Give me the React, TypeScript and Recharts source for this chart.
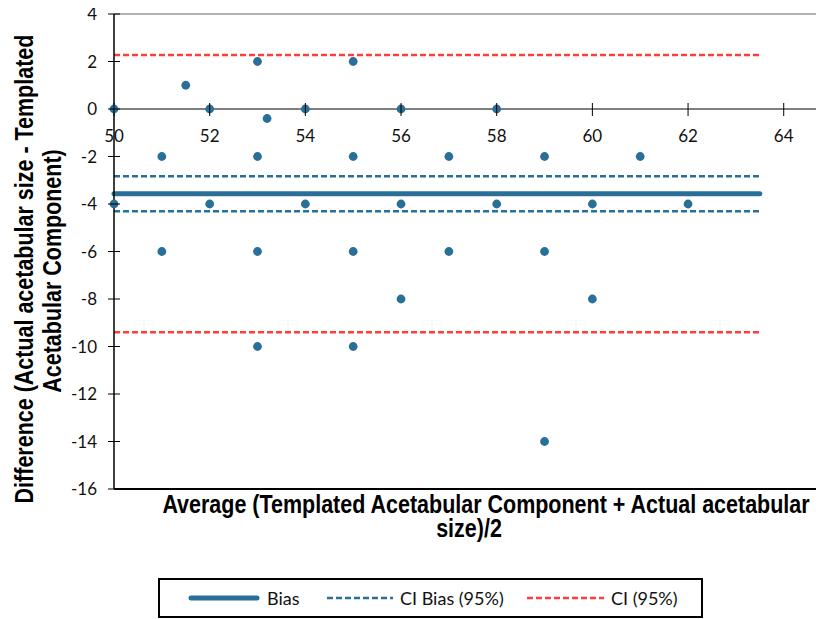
import React from "react";
import { ScatterChart, Scatter, XAxis, YAxis, ReferenceLine } from "recharts";

// Bland-Altman points: average of the two sizes vs. their difference
const averages = [
  50, 50, 51.5, 51, 51, 52, 52, 53, 53.2, 53, 53, 53, 54, 54, 55, 55, 55, 55,
  56, 56, 56, 57, 57, 58, 58, 59, 59, 59, 60, 60, 61, 62,
];
const differences = [
  0, -4, 1, -2, -6, 0, -4, 2, -0.4, -2, -6, -10, 0, -4, 2, -2, -6, -10, 0, -4,
  -8, -2, -6, 0, -4, -2, -6, -14, -4, -8, -2, -4,
];

const xTicks = [50, 52, 54, 56, 58, 60, 62, 64];
const yTicks = [4, 2, 0, -2, -4, -6, -8, -10, -12, -14, -16];

// summary lines
const bias = -3.57;
const ciBias = [-2.83, -4.31];
const ci = [2.27, -9.4];
const lineRange = [50, 63.5];

const BLUE = "#2a6f97";
const RED = "#ff3d3d";

const legendItems = [
  { label: "Bias", color: BLUE, dash: "", width: 5 },
  { label: "CI Bias (95%)", color: BLUE, dash: "6 3", width: 2.5 },
  { label: "CI (95%)", color: RED, dash: "6 3", width: 2.5 },
];
// legend layout: left offset and swatch length per item
const legendLeft = [28, 167, 367];
const legendSwatch = [72, 66, 77];

const PLOT_H = 475;
const ZERO_FROM_BOTTOM = PLOT_H * (16 / 20); // y = 0 sits 16 of 20 units above the bottom

const data = averages.map((x, i) => ({ x, y: differences[i] }));

const tickFont = { fontFamily: "Lato, sans-serif", fontSize: 17, fill: "#111" };
// narrow bold look: Liberation Sans bold squeezed horizontally
const titleFont = {
  fontFamily: "'Liberation Sans', Arial, sans-serif",
  fontWeight: 700,
  fontSize: 25,
  fill: "#000",
};
const SQUEEZE = 0.86;

const XTick = (props: any) => {
  const { x, y, payload } = props;
  const zy = y - ZERO_FROM_BOTTOM;
  return (
    <g>
      <line x1={x} x2={x} y1={zy - 6} y2={zy + 7} stroke="#000" strokeWidth={1} />
      <text x={x} y={zy + 33} textAnchor="middle" {...tickFont}>
        {payload.value}
      </text>
    </g>
  );
};

const YTick = (props: any) => {
  const { x, y, payload } = props;
  return (
    <g>
      <line x1={x - 6} x2={x + 6} y1={y} y2={y} stroke="#000" strokeWidth={1} />
      <text x={x - 17} y={y + 6} textAnchor="end" {...tickFont}>
        {payload.value}
      </text>
    </g>
  );
};

const XTitle = (props: any) => {
  const { viewBox } = props;
  const top = viewBox.y;
  return (
    <g>
      <g transform={`translate(478, ${top + 24}) scale(${SQUEEZE}, 1)`}>
        <text x={0} y={0} textAnchor="middle" {...titleFont}>
          Average (Templated Acetabular Component + Actual acetabular
        </text>
      </g>
      <g transform={`translate(461, ${top + 48}) scale(${SQUEEZE}, 1)`}>
        <text x={0} y={0} textAnchor="middle" {...titleFont}>
          size)/2
        </text>
      </g>
    </g>
  );
};

const YTitle = () => {
  const cy = 261;
  return (
    <g>
      <g transform={`translate(25, ${cy}) rotate(-90) scale(${SQUEEZE}, 1)`}>
        <text x={0} y={0} textAnchor="middle" {...titleFont}>
          Difference (Actual acetabular size - Templated
        </text>
      </g>
      <g transform={`translate(53, ${cy + 2}) rotate(-90) scale(${SQUEEZE}, 1)`}>
        <text x={0} y={0} textAnchor="middle" {...titleFont}>
          Acetabular Component)
        </text>
      </g>
    </g>
  );
};

const Dot = (props: any) => <circle cx={props.cx} cy={props.cy} r={4.4} fill={BLUE} />;

const App = () => {
  return (
    <div style={{ position: "relative", width: 816, height: 611 }}>
      <ScatterChart
        width={816}
        height={611}
        margin={{ top: 6, right: 2, left: 0, bottom: 0 }}
        style={{ overflow: "visible" }}
      >
        <XAxis
          type="number"
          dataKey="x"
          domain={[50, 64.8]}
          ticks={xTicks}
          interval={0}
          height={130}
          tickSize={0}
          tickMargin={0}
          tick={<XTick />}
          axisLine={{ stroke: "#000", strokeWidth: 2 }}
          tickLine={false}
          label={<XTitle />}
        />
        <YAxis
          type="number"
          dataKey="y"
          domain={[-16, 4]}
          ticks={yTicks}
          interval={0}
          width={106}
          tickSize={0}
          tickMargin={0}
          tick={<YTick />}
          axisLine={{ stroke: "#000", strokeWidth: 1.5 }}
          tickLine={false}
          label={<YTitle />}
        />
        <ReferenceLine y={4} stroke="#9a9a9a" strokeWidth={1.5} />
        <ReferenceLine y={0} stroke="#000" strokeWidth={1} />
        {ci.map((v) => (
          <ReferenceLine
            key={`ci${v}`}
            segment={[{ x: lineRange[0], y: v }, { x: lineRange[1], y: v }]}
            stroke={RED}
            strokeWidth={2.5}
            strokeDasharray="6 3"
          />
        ))}
        {ciBias.map((v) => (
          <ReferenceLine
            key={`cib${v}`}
            segment={[{ x: lineRange[0], y: v }, { x: lineRange[1], y: v }]}
            stroke={BLUE}
            strokeWidth={2.5}
            strokeDasharray="6 3"
          />
        ))}
        <ReferenceLine
          segment={[{ x: lineRange[0], y: bias }, { x: lineRange[1], y: bias }]}
          stroke={BLUE}
          strokeWidth={5}
          strokeLinecap="round"
        />
        <Scatter data={data} shape={<Dot />} isAnimationActive={false} />
      </ScatterChart>

      {/* legend box under the plot */}
      <div
        style={{
          position: "absolute",
          left: 150,
          top: 570,
          width: 541,
          height: 36,
          border: "2px solid #000",
          fontFamily: "Lato, sans-serif",
          fontSize: 18,
          color: "#111",
        }}
      >
        {legendItems.map((item, i) => (
          <div
            key={item.label}
            style={{
              position: "absolute",
              left: legendLeft[i],
              top: 0,
              height: 36,
              display: "flex",
              alignItems: "center",
            }}
          >
            <svg width={legendSwatch[i]} height={10} style={{ marginRight: 7 }}>
              <line
                x1={item.dash ? 0 : 3}
                x2={item.dash ? legendSwatch[i] : legendSwatch[i] - 3}
                y1={5}
                y2={5}
                stroke={item.color}
                strokeWidth={item.width}
                strokeDasharray={item.dash || undefined}
                strokeLinecap={item.dash ? "butt" : "round"}
              />
            </svg>
            <span>{item.label}</span>
          </div>
        ))}
      </div>
    </div>
  );
};

export default App;
